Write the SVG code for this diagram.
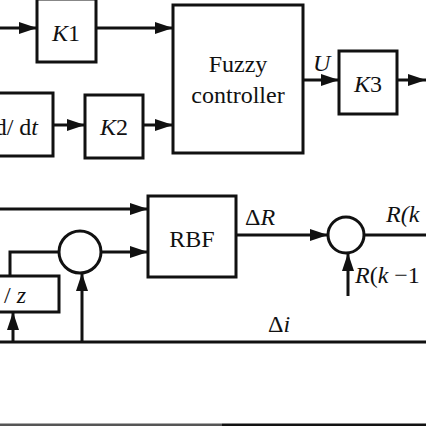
<svg xmlns="http://www.w3.org/2000/svg" width="426" height="426" viewBox="0 0 426 426">
<style>
.b{fill:#fff;stroke:#111;stroke-width:3}
.c{fill:none;stroke:#111;stroke-width:3}
.t{font-family:"Liberation Serif","Times New Roman",serif;font-size:24px;fill:#111}
.i{font-style:italic}
</style>
<defs>
<marker id="a" markerUnits="userSpaceOnUse" markerWidth="20" markerHeight="14" refX="18" refY="6" orient="auto">
<path d="M0,0 L18,6 L0,12 z" fill="#111"/>
</marker>
</defs>
<rect width="426" height="426" fill="#fff"/>
<g id="K1"><rect class="b" x="37" y="-1" width="59" height="63"/><text class="t" x="66" y="41" text-anchor="middle"><tspan class="i">K</tspan>1</text></g>
<g id="fuzzy"><rect class="b" x="173" y="5" width="130" height="148"/><text class="t" x="238" y="72" text-anchor="middle">Fuzzy</text><text class="t" x="238" y="103" text-anchor="middle">controller</text></g>
<g id="ddt"><rect class="b" x="-10" y="93" width="63" height="63"/><text class="t" x="38" y="135" text-anchor="end">d/ d<tspan class="i">t</tspan></text></g>
<g id="K2"><rect class="b" x="85" y="95" width="58" height="63"/><text class="t" x="114" y="135" text-anchor="middle"><tspan class="i">K</tspan>2</text></g>
<g id="K3"><rect class="b" x="339" y="51" width="58" height="63"/><text class="t" x="368" y="92" text-anchor="middle"><tspan class="i">K</tspan>3</text></g>
<g id="RBF"><rect class="b" x="148" y="196" width="88" height="81"/><text class="t" x="192" y="247" text-anchor="middle">RBF</text></g>
<g id="sum1"><circle class="b" cx="80" cy="252" r="21"/></g>
<g id="sum2"><circle class="b" cx="346" cy="235" r="18"/></g>
<g id="delay"><rect class="b" x="-10" y="276" width="69" height="36"/><text class="t" x="26" y="303" text-anchor="end">/ <tspan class="i">z</tspan></text></g>
<g id="connectors">
<path class="c" d="M0,28 H37" marker-end="url(#a)"/>
<path class="c" d="M96,28 H173" marker-end="url(#a)"/>
<path class="c" d="M53,125 H85" marker-end="url(#a)"/>
<path class="c" d="M143,125 H173" marker-end="url(#a)"/>
<path class="c" d="M303,80 H339" marker-end="url(#a)"/>
<path class="c" d="M397,80 H426" marker-end="url(#a)"/>
<path class="c" d="M0,209 H148" marker-end="url(#a)"/>
<path class="c" d="M101,252 H148" marker-end="url(#a)"/>
<path class="c" d="M59,252 H10 V276"/>
<path class="c" d="M13,342 V312" marker-end="url(#a)"/>
<path class="c" d="M82,342 V273" marker-end="url(#a)"/>
<path class="c" d="M0,342 H426"/>
<path class="c" d="M236,235 H328" marker-end="url(#a)"/>
<path class="c" d="M364,235 H426"/>
<path class="c" d="M348,296 V253" marker-end="url(#a)"/>
<path d="M0,425 H222" stroke="#555" stroke-width="3"/>
<path d="M222,425 H426" stroke="#111" stroke-width="3"/>
</g>
<text class="t i" x="313" y="71">U</text>
<text class="t" x="245" y="225">Δ<tspan class="i">R</tspan></text>
<text class="t i" x="386" y="222">R(k</text>
<text class="t" x="355" y="283"><tspan class="i">R</tspan>(<tspan class="i">k</tspan> −1</text>
<text class="t" x="268" y="332">Δ<tspan class="i">i</tspan></text>
</svg>
